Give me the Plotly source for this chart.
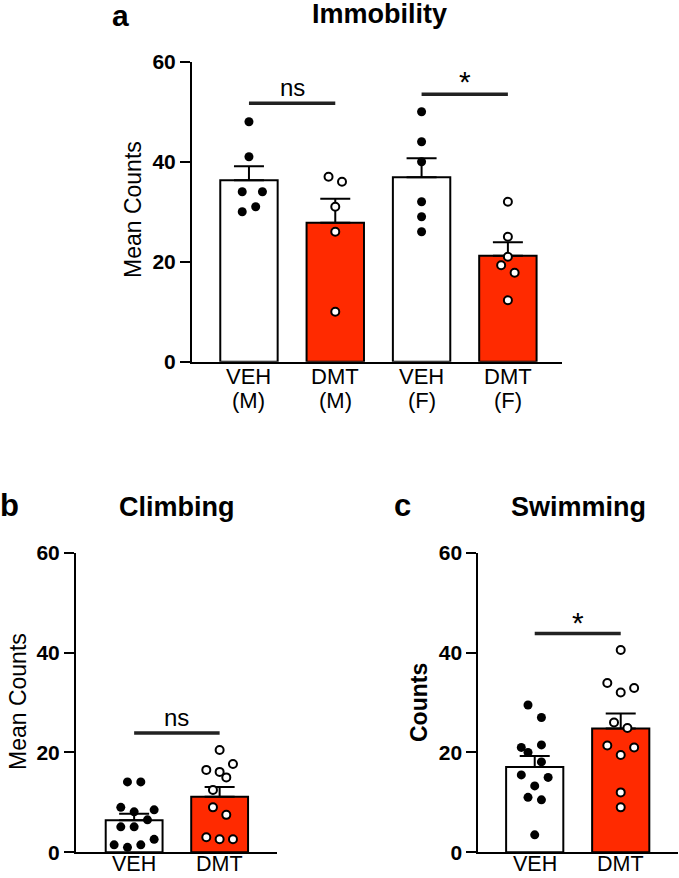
import plotly.graph_objects as go

# ---------------- data ----------------
# Panel a: Immobility
imm_treat = ["VEH", "DMT", "VEH", "DMT"]
imm_sex = ["(M)", "(M)", "(F)", "(F)"]
imm_mean = [36.3, 27.8, 36.9, 21.2]
imm_sem = [2.8, 4.8, 3.8, 2.7]
imm_veh_m = [48, 41, 34, 34, 31, 30]
imm_dmt_m = [37, 36, 31, 26, 10]
imm_veh_f = [50, 44, 40, 32, 29, 26]
imm_dmt_f = [32, 25, 21, 19.3, 17.8, 12.3]

# Panel b: Climbing
clm_treat = ["VEH", "DMT"]
clm_mean = [6.4, 11.1]
clm_sem = [1.3, 2.0]
clm_veh = [14.1, 14.1, 9.0, 8.1, 8.5, 6.5, 5.1, 5.1, 2.6, 1.5, 1.0, 1.5]
clm_dmt = [20.5, 17.7, 16.5, 16.1, 15.0, 12.5, 9.0, 7.5, 3.0, 2.6, 2.6]

# Panel c: Swimming
swm_treat = ["VEH", "DMT"]
swm_mean = [17.1, 24.8]
swm_sem = [2.2, 3.0]
swm_veh = [29.5, 27.0, 21.0, 20.0, 21.5, 18.1, 15.5, 15.0, 13.3, 11.0, 10.5, 3.5]
swm_dmt = [40.5, 33.9, 32.9, 32.0, 26.0, 24.9, 21.4, 21.0, 19.5, 12.0, 9.0]

y_ticks = [0, 20, 40, 60]

# horizontal scatter spread of the dots (styling, in category units)
J = 0.078
jit_imm = [[0, 0, -J, 2 * J, J, -J], [-J, J, 0, 0, 0], [0] * 6, [0, 0, 0, -J, J, 0]]
jit_clm = [[-J, J, -2 * J, 0, 3 * J, 2 * J, -2 * J, 0, 3 * J, -3 * J, -J, J],
           [0, 2 * J, -2 * J, 0, J, -J, -J, J, -2 * J, 0, 2 * J]]
jit_swm = [[-J, J, -2 * J, -J, J, J, -2 * J, 2 * J, 0, -J, J, 0],
           [0, -2 * J, 2 * J, 0, -J, J, -2 * J, 2 * J, 0, 0, 0]]

# ---------------- style ----------------
FONT = "Liberation Sans, Arial, Helvetica, sans-serif"
RED = "#FF2A00"
W, H = 679, 878


def px_x(p):
    return p / W


def px_y(p):
    return 1 - p / H


fig = go.Figure()


def add_panel(xa, ya, means, sems, colors, groups, jitters, fills):
    n = len(means)
    fig.add_trace(go.Bar(
        x=list(range(n)), y=means, width=0.665,
        marker=dict(color=colors, line=dict(color="black", width=2)),
        error_y=dict(type="data", array=sems, arrayminus=[0] * n, symmetric=False,
                     color="black", thickness=2, width=15),
        xaxis=xa, yaxis=ya, showlegend=False, hoverinfo="skip"))
    for i, (vals, jit, fill) in enumerate(zip(groups, jitters, fills)):
        if fill == "black":
            mk = dict(size=9, color="black", line=dict(color="black", width=0))
        else:
            mk = dict(size=8, color="white", line=dict(color="black", width=2))
        fig.add_trace(go.Scatter(
            x=[i + j for j in jit], y=vals, mode="markers", marker=mk,
            xaxis=xa, yaxis=ya, showlegend=False, cliponaxis=False))


add_panel("x", "y", imm_mean, imm_sem, ["white", RED, "white", RED],
          [imm_veh_m, imm_dmt_m, imm_veh_f, imm_dmt_f], jit_imm,
          ["black", "white", "black", "white"])
add_panel("x2", "y2", clm_mean, clm_sem, ["white", RED],
          [clm_veh, clm_dmt], jit_clm, ["black", "white"])
add_panel("x3", "y3", swm_mean, swm_sem, ["white", RED],
          [swm_veh, swm_dmt], jit_swm, ["black", "white"])

yax = dict(range=[0, 60], tickvals=y_ticks, ticks="outside", ticklen=10, tickwidth=2,
           tickcolor="black", showline=True, linewidth=2, linecolor="black",
           showgrid=False, zeroline=False, automargin=False,
           tickfont=dict(family=FONT, size=21, color="black", weight="bold"))
xax = dict(ticks="", ticklen=0, showline=True, linewidth=2, linecolor="black",
           showgrid=False, zeroline=False, automargin=False, showticklabels=False)

fig.update_layout(
    width=W, height=H, margin=dict(l=0, r=0, t=0, b=0, pad=0, autoexpand=False),
    paper_bgcolor="white", plot_bgcolor="white",
    xaxis=dict(xax, domain=[px_x(192), px_x(562)], range=[-0.66, 3.627], anchor="y"),
    yaxis=dict(yax, domain=[px_y(361.7), px_y(61.7)], anchor="x"),
    xaxis2=dict(xax, domain=[px_x(76), px_x(277)], range=[-0.68, 1.671], anchor="y2"),
    yaxis2=dict(yax, domain=[px_y(852.3), px_y(552.7)], anchor="x2"),
    xaxis3=dict(xax, domain=[px_x(478.3), px_x(678)], range=[-0.656, 1.666], anchor="y3"),
    yaxis3=dict(yax, domain=[px_y(852.3), px_y(552.7)], anchor="x3"),
)

LINE = dict(color="#222222", width=3.5)
shapes = [
    dict(type="line", xref="x", yref="y", x0=0, x1=1, y0=51.7, y1=51.7, line=LINE),
    dict(type="line", xref="x", yref="y", x0=2, x1=3, y0=53.5, y1=53.5, line=LINE),
    dict(type="line", xref="x2", yref="y2", x0=0, x1=1, y0=23.9, y1=23.9, line=LINE),
    dict(type="line", xref="x3", yref="y3", x0=0, x1=1, y0=43.8, y1=43.8, line=LINE),
]
fig.update_layout(shapes=shapes)

ann = []


def txt(text, x, y, size, xref="paper", yref="paper", bold=False, angle=0,
        xanchor="center", yanchor="middle"):
    ann.append(dict(text=f"<b>{text}</b>" if bold else text, x=x, y=y, xref=xref,
                    yref=yref, showarrow=False, textangle=angle, xanchor=xanchor,
                    yanchor=yanchor,
                    font=dict(family=FONT, size=size, color="black")))


# panel letters and titles
txt("a", px_x(120), px_y(15.5), 30, bold=True)
txt("Immobility", px_x(379), px_y(14.5), 27, bold=True)
txt("b", px_x(9), px_y(505), 31, bold=True)
txt("Climbing", px_x(177), px_y(507), 27, bold=True)
txt("c", px_x(402), px_y(505), 31, bold=True)
txt("Swimming", px_x(578), px_y(507), 27, bold=True)

# y-axis titles
txt("Mean Counts", px_x(133), px_y(210), 23, angle=-90)
txt("Mean Counts", px_x(18), px_y(702), 23, angle=-90)
txt("Counts", px_x(419), px_y(703), 23, bold=True, angle=-90)

# category labels, placed on the x axes' own scales
for i, (t, s) in enumerate(zip(imm_treat, imm_sex)):
    txt(t, i, px_y(377), 22, xref="x")
    txt(s, i, px_y(400), 22, xref="x")
for i, t in enumerate(clm_treat):
    txt(t, i, 0, 21.5, xref="x2", yanchor="bottom")
for i, t in enumerate(swm_treat):
    txt(t, i, 0, 21.5, xref="x3", yanchor="bottom")

# significance marks
txt("ns", 0.5, 54.9, 24, xref="x", yref="y")
txt("*", 2.5, 56.0, 30, xref="x", yref="y")
txt("ns", 0.5, 27.0, 24, xref="x2", yref="y2")
txt("*", 0.5, 46.0, 30, xref="x3", yref="y3")

fig.update_layout(annotations=ann)

fig.write_html("out.html", config={"displayModeBar": False},
               post_script="document.body.style.margin='0';")
